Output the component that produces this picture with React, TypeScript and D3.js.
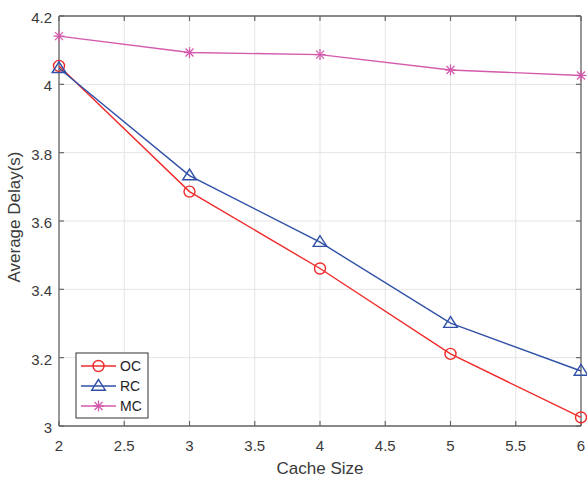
import React from "react";
import * as d3 from "d3";

const cacheSizes = [2, 3, 4, 5, 6];
const ocValues = [4.054, 3.686, 3.461, 3.211, 3.025];
const rcValues = [4.047, 3.733, 3.538, 3.301, 3.161];
const mcValues = [4.141, 4.093, 4.087, 4.042, 4.026];
const xTicks = [2, 2.5, 3, 3.5, 4, 4.5, 5, 5.5, 6];
const yTicks = [3, 3.2, 3.4, 3.6, 3.8, 4, 4.2];
const seriesNames = ["OC", "RC", "MC"];

const W = 587, H = 479;
const L = 59, R = 581, T = 16, B = 426;
const FONT = "'Liberation Sans', Arial, Helvetica, sans-serif";

const colors = ["#ef2b2b", "#2f50a6", "#d45aac"];

function Marker({ kind, x, y, color }: { kind: number; x: number; y: number; color: string }) {
  if (kind === 0) return <circle cx={x} cy={y} r={5.5} fill="none" stroke={color} strokeWidth={1.4} />;
  if (kind === 1) {
    const s = 6.5;
    const pts = `${x},${y - s} ${x - s * 1.05},${y + s * 0.65} ${x + s * 1.05},${y + s * 0.65}`;
    return <polygon points={pts} fill="none" stroke={color} strokeWidth={1.4} />;
  }
  const s = 5.5;
  const d = 4;
  return (
    <g stroke={color} strokeWidth={1.3}>
      <line x1={x} y1={y - s} x2={x} y2={y + s} />
      <line x1={x - s} y1={y} x2={x + s} y2={y} />
      <line x1={x - d} y1={y - d} x2={x + d} y2={y + d} />
      <line x1={x - d} y1={y + d} x2={x + d} y2={y - d} />
    </g>
  );
}

export default function App() {
  const x = d3.scaleLinear().domain([2, 6]).range([L, R]);
  const y = d3.scaleLinear().domain([3, 4.2]).range([B, T]);
  const series = [ocValues, rcValues, mcValues];
  const line = d3
    .line<number>()
    .x((_, i) => x(cacheSizes[i]))
    .y((d) => y(d));

  const legX = 76, legY = 353, legW = 72, legH = 65;

  return (
    <svg width={W} height={H} style={{ position: "absolute", left: 0, top: 0 }} fontFamily={FONT}>
      <rect x={0} y={0} width={W} height={H} fill="#fff" />
      {/* grid */}
      {xTicks.map((t) => (
        <line key={"gx" + t} x1={x(t)} x2={x(t)} y1={T} y2={B} stroke="#e5e5e5" strokeWidth={1} />
      ))}
      {yTicks.map((t) => (
        <line key={"gy" + t} x1={L} x2={R} y1={y(t)} y2={y(t)} stroke="#e5e5e5" strokeWidth={1} />
      ))}
      {/* axes box */}
      <line x1={L} x2={R} y1={T} y2={T} stroke="#666" strokeWidth={1.3} />
      <line x1={L} x2={R} y1={B} y2={B} stroke="#666" strokeWidth={1.3} />
      <line x1={L} x2={L} y1={T} y2={B} stroke="#666" strokeWidth={1.3} />
      <line x1={R} x2={R} y1={T} y2={B} stroke="#666" strokeWidth={1.3} />
      {/* ticks */}
      {xTicks.map((t) => (
        <g key={"tx" + t}>
          <line x1={x(t)} x2={x(t)} y1={B} y2={B - 5} stroke="#666" strokeWidth={1.2} />
          <line x1={x(t)} x2={x(t)} y1={T} y2={T + 5} stroke="#666" strokeWidth={1.2} />
          <text x={x(t)} y={451} textAnchor="middle" fontSize={15} fill="#3a3a3a">
            {String(t)}
          </text>
        </g>
      ))}
      {yTicks.map((t) => (
        <g key={"ty" + t}>
          <line x1={L} x2={L + 5} y1={y(t)} y2={y(t)} stroke="#666" strokeWidth={1.2} />
          <line x1={R} x2={R - 5} y1={y(t)} y2={y(t)} stroke="#666" strokeWidth={1.2} />
          <text x={52} y={y(t) + 7} textAnchor="end" fontSize={15} fill="#3a3a3a">
            {String(t)}
          </text>
        </g>
      ))}
      {/* series */}
      {series.map((vals, si) => (
        <g key={"s" + si}>
          <path d={line(vals) || ""} fill="none" stroke={colors[si]} strokeWidth={1.4} />
          {vals.map((v, i) => (
            <Marker key={i} kind={si} x={x(cacheSizes[i])} y={y(v)} color={colors[si]} />
          ))}
        </g>
      ))}
      {/* labels */}
      <text x={(L + R) / 2} y={474} textAnchor="middle" fontSize={17} fill="#3a3a3a">
        Cache Size
      </text>
      <text
        transform={`translate(20, ${(T + B) / 2 - 4}) rotate(-90)`}
        textAnchor="middle"
        fontSize={17}
        fill="#3a3a3a"
      >
        Average Delay(s)
      </text>
      {/* legend */}
      <rect x={legX} y={legY} width={legW} height={legH} fill="#fff" stroke="#333" strokeWidth={1} />
      {seriesNames.map((n, i) => {
        const ly = legY + 13 + i * 20;
        return (
          <g key={n}>
            <line x1={81} x2={116} y1={ly} y2={ly} stroke={colors[i]} strokeWidth={1.4} />
            <Marker kind={i} x={98.5} y={ly} color={colors[i]} />
            <text x={120} y={ly + 5} fontSize={14} fill="#222">
              {n}
            </text>
          </g>
        );
      })}
    </svg>
  );
}
